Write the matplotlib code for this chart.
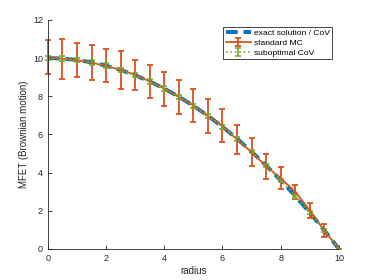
import numpy as np
import matplotlib.pyplot as plt

plt.rcParams['font.family'] = ['Liberation Sans', 'DejaVu Sans']

radius = [0, 0.5, 1, 1.5, 2, 2.5, 3, 3.5, 4, 4.5, 5, 5.5, 6, 6.5, 7, 7.5, 8, 8.5, 9, 9.5, 10]
exact = [10, 9.975, 9.9, 9.775, 9.6, 9.375, 9.1, 8.775, 8.4, 7.975, 7.5,
         6.975, 6.4, 5.775, 5.1, 4.375, 3.6, 2.775, 1.9, 0.975, 0]
mc_mean = [10.05, 9.96, 9.89, 9.76, 9.59, 9.38, 9.12, 8.77, 8.40, 7.96, 7.51,
           6.95, 6.45, 5.73, 5.07, 4.33, 3.70, 3.00, 2.02, 0.96, 0]
mc_err = [0.87, 1.05, 0.89, 0.92, 0.87, 0.98, 0.77, 0.87, 0.89, 0.88, 0.86,
          0.88, 0.86, 0.77, 0.72, 0.66, 0.58, 0.37, 0.40, 0.35, 0]
cov_mean = [10.0, 9.97, 9.9, 9.77, 9.6, 9.37, 9.1, 8.77, 8.4, 7.97, 7.5,
            6.97, 6.4, 5.77, 5.1, 4.37, 3.6, 2.77, 1.9, 0.97, 0]
cov_err = [0.12, 0.12, 0.12, 0.12, 0.12, 0.12, 0.11, 0.11, 0.11, 0.11, 0.1,
           0.1, 0.1, 0.1, 0.09, 0.09, 0.08, 0.08, 0.07, 0.06, 0]

blue = (0, 0.447, 0.741)
orange = (0.85, 0.325, 0.098)
green = (0.466, 0.674, 0.188)
axcol = (0.15, 0.15, 0.15)

fig = plt.figure(figsize=(3.74, 2.8), dpi=100)
ax = fig.add_axes([0.128, 0.111, 0.778, 0.818])

ax.plot(radius, exact, '--', color=blue, lw=2.8, dashes=(3, 1.5),
        label='exact solution / CoV', clip_on=False)
mc = ax.errorbar(radius, mc_mean, yerr=mc_err, color=orange, lw=1.3, elinewidth=1.3,
                 capsize=2.5, capthick=1.3, label='standard MC')
cv = ax.errorbar(radius, cov_mean, yerr=cov_err, color=green, lw=1.2, ls=':',
                 elinewidth=1.2, capsize=2.5, capthick=1.2, label='suboptimal CoV')
for cont in (mc, cv):
    for art in cont.get_children():
        art.set_clip_on(False)

ax.set_xlim(0, 10)
ax.set_ylim(0, 12)
ax.set_xticks(range(0, 11, 2))
ax.set_yticks(range(0, 13, 2))
for s in ['top', 'right']:
    ax.spines[s].set_visible(False)
for s in ['left', 'bottom']:
    ax.spines[s].set_color(axcol)
    ax.spines[s].set_linewidth(0.6)
ax.tick_params(direction='in', length=3, width=0.6, colors=axcol, labelsize=6.5)
ax.set_xlabel('radius', fontsize=7, color=axcol, labelpad=2)
ax.set_ylabel('MFET (Brownian motion)', fontsize=7, color=axcol, labelpad=3)

leg = ax.legend(loc='upper right', bbox_to_anchor=(0.977, 0.969), fontsize=6.1,
                fancybox=False, framealpha=1, edgecolor=axcol, handlelength=3.0,
                handletextpad=0.3, borderpad=0.3, labelspacing=0.2, borderaxespad=0)
leg.get_frame().set_linewidth(0.6)

fig.savefig('out.png', dpi=100)
